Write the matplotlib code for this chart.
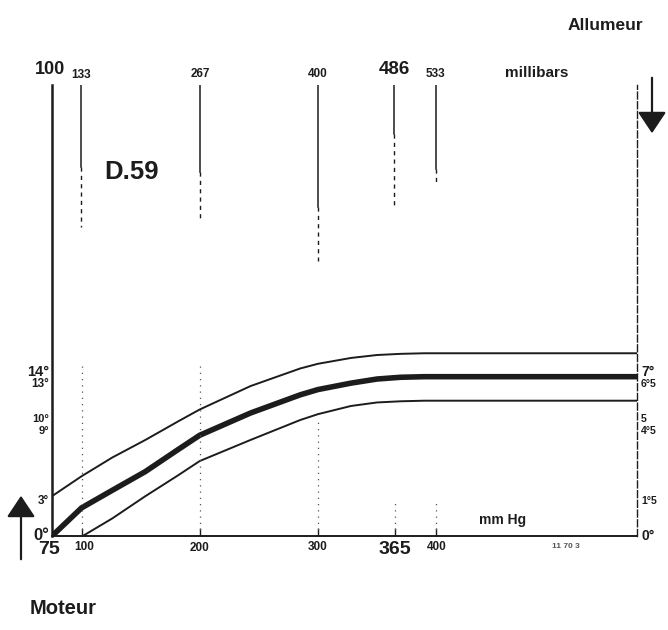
import matplotlib
matplotlib.use("Agg")
import matplotlib.pyplot as plt

# ---------------- data ----------------
pressure_upper = [75, 100, 126, 154, 182, 200, 243, 285, 300, 328, 350, 370, 390, 570]
advance_upper = [3.4, 5.1, 6.7, 8.2, 9.8, 10.8, 12.8, 14.3, 14.7, 15.2, 15.45, 15.55, 15.6, 15.6]

pressure_mid = [75, 100, 126, 154, 182, 200, 243, 285, 300, 328, 350, 370, 390, 570]
advance_mid = [0.0, 2.4, 3.9, 5.5, 7.4, 8.6, 10.5, 12.05, 12.5, 13.05, 13.4, 13.55, 13.6, 13.6]

pressure_low = [101, 126, 154, 182, 200, 243, 285, 300, 328, 350, 370, 390, 570]
advance_low = [0.0, 1.5, 3.4, 5.2, 6.4, 8.2, 9.9, 10.4, 11.1, 11.4, 11.5, 11.55, 11.55]

bottom_ticks = [75, 100, 200, 300, 365, 400]
bottom_labels = ["75", "100", "200", "300", "365", "400"]

top_ticks_mbar = [100, 133, 267, 400, 486, 533]
top_labels = ["100", "133", "267", "400", "486", "533"]

left_ticks = [0, 3, 9, 10, 13, 14]
left_labels = ["0°", "3°", "9°", "10°", "13°", "14°"]
right_labels = ["0°", "1°5", "4°5", "5", "6°5", "7°"]

MBAR_PER_MMHG = 1.33322

# ---------------- styling ----------------
INK = "#1c1c1c"
FONT = "Liberation Sans"
plt.rcParams["font.family"] = [FONT, "DejaVu Sans"]
plt.rcParams["font.weight"] = "bold"

fig = plt.figure(figsize=(6.68, 6.30), dpi=100)
W, H = 668, 630
ax = fig.add_axes([52 / W, (H - 536) / H, 585 / W, 451 / H])
ax.set_xlim(75, 570)
ax.set_ylim(0, 38.5)

ax.spines["top"].set_visible(False)
ax.spines["left"].set_linewidth(1.8)
ax.spines["left"].set_color(INK)
ax.spines["bottom"].set_linewidth(1.4)
ax.spines["bottom"].set_color(INK)
ax.spines["right"].set_linewidth(1.0)
ax.spines["right"].set_color(INK)
ax.spines["right"].set_linestyle((0, (5, 2)))

ax.set_xticks(bottom_ticks[1:])
ax.set_yticks([])
ax.tick_params(axis="x", direction="in", length=6, width=1.0, color=INK,
               labelbottom=False)

# ---------------- curves ----------------
kw = dict(color=INK, solid_capstyle="round", solid_joinstyle="round")
ax.plot(pressure_upper, advance_upper, lw=1.4, **kw)
ax.plot(pressure_mid, advance_mid, lw=4.0, **kw)
ax.plot(pressure_low, advance_low, lw=1.4, **kw)

# ---------------- guide lines ----------------
top_x = [t / MBAR_PER_MMHG for t in top_ticks_mbar[1:]]
solid_ends = [31.5, 31.1, 28.1, 34.3, 31.3]
dash_ends = [26.4, 27.0, 23.5, 27.9, 30.0]
for x, se, de in zip(top_x, solid_ends, dash_ends):
    ax.plot([x, x], [38.5, se], color=INK, lw=1.1)
    ax.plot([x, x], [se, de], color=INK, lw=1.0, ls=(0, (3, 3)))

low_x = [100, 200, 300, 365, 400]
low_top = [14.5, 14.5, 10.0, 3.0, 3.0]
for x, yt in zip(low_x, low_top):
    ax.plot([x, x], [0, yt], color="#555555", lw=0.9, ls=(0, (1, 4)))

# ---------------- tick labels ----------------
def lab(text, x, y, coords, dx, dy, size, ha="center", va="center"):
    ax.annotate(text, xy=(x, y), xycoords=coords, xytext=(dx, dy),
                textcoords="offset pixels", ha=ha, va=va, fontsize=size,
                fontweight="bold", color=INK, annotation_clip=False)

b_dx = [-3, 2.5, 0, 0, 0, 1]
b_dy = [-14, -11, -12, -11, -14, -11]
b_sz = [14, 8.5, 8.5, 8.5, 14, 8.5]
for x, t, dx, dy, sz in zip(bottom_ticks, bottom_labels, b_dx, b_dy, b_sz):
    lab(t, x, 0, ("data", "axes fraction"), dx, dy, sz)

t_dx = [-2, 0, 0, 0, 0, 0]
t_dy = [16, 9.5, 11, 11, 15, 11]
t_sz = [13, 8.5, 8.5, 8.5, 13.5, 8.5]
for m, t, dx, dy, sz in zip(top_ticks_mbar, top_labels, t_dx, t_dy, t_sz):
    lab(t, m / MBAR_PER_MMHG, 1, ("data", "axes fraction"), dx, dy, sz)

l_sz = [12, 8.5, 8, 8, 8.5, 10.5]
for y, t, sz in zip(left_ticks, left_labels, l_sz):
    lab(t, 0, y, ("axes fraction", "data"), -3, 0, sz, ha="right")

r_sz = [10, 7.5, 7.5, 7.5, 7.5, 10]
for y, t, sz in zip(left_ticks, right_labels, r_sz):
    lab(t, 1, y, ("axes fraction", "data"), 4, 0, sz, ha="left")

# ---------------- annotations ----------------
def ftext(x, y, s, size, ha="center", va="center", color=INK):
    fig.text(x / W, 1 - y / H, s, fontsize=size, fontweight="bold",
             ha=ha, va=va, color=color)

ftext(605, 25, "Allumeur", 12.5)
ftext(537, 73, "millibars", 11)
ftext(132, 172, "D.59", 18.5)
ftext(503, 520, "mm Hg", 10)
ftext(63, 608, "Moteur", 14.5)
ftext(566, 546, "11 70 3", 6, color="#555555")

fig.add_artist(matplotlib.patches.FancyArrowPatch(
    (652 / W, 1 - 75 / H), (652 / W, 1 - 136 / H), transform=fig.transFigure,
    arrowstyle="-|>,head_length=6,head_width=4", lw=1.6, color=INK,
    mutation_scale=2.2))
fig.add_artist(matplotlib.patches.FancyArrowPatch(
    (21 / W, 1 - 562 / H), (21 / W, 1 - 493 / H), transform=fig.transFigure,
    arrowstyle="-|>,head_length=6,head_width=4", lw=1.6, color=INK,
    mutation_scale=2.2))

fig.savefig("out.png", dpi=100, facecolor="white")
